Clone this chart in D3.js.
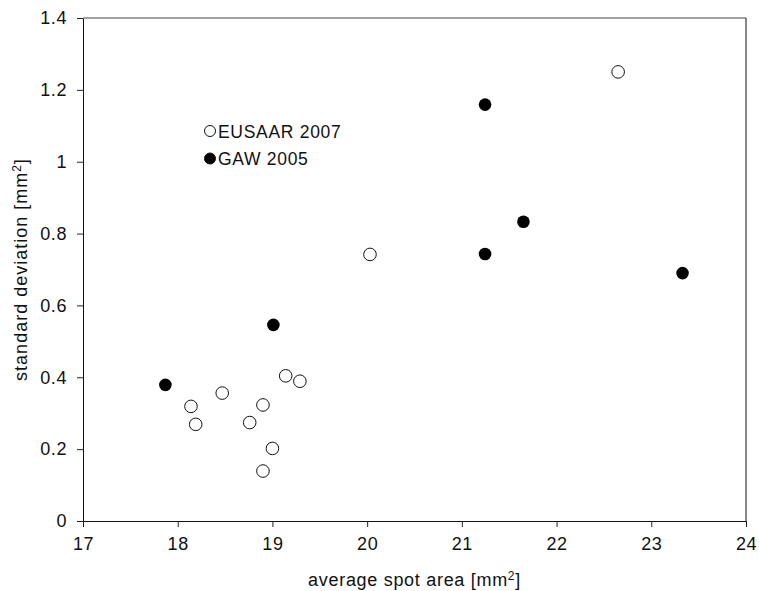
<!DOCTYPE html>
<html>
<head>
<meta charset="utf-8">
<script src="https://cdn.jsdelivr.net/npm/d3@7"></script>
<style>
  body { margin: 0; background: #fff; }
  svg { font-family: Arial, "Liberation Sans", sans-serif; }
</style>
</head>
<body>
<div id="chart"><svg width="759" height="591"></svg></div>
<script>
// EUSAAR 2007 (open circles)
const eusaarX = [18.14, 18.19, 18.47, 18.76, 18.90, 18.90, 19.00, 19.14, 19.29, 20.03, 22.65];
const eusaarY = [0.319, 0.269, 0.356, 0.274, 0.323, 0.139, 0.202, 0.404, 0.389, 0.742, 1.25];

// GAW 2005 (filled circles)
const gawX = [17.87, 19.01, 21.245, 21.245, 21.65, 23.33];
const gawY = [0.379, 0.546, 1.159, 0.743, 0.833, 0.69];

const xTicks = [17, 18, 19, 20, 21, 22, 23, 24];
const yTicks = [0, 0.2, 0.4, 0.6, 0.8, 1, 1.2, 1.4];

const seriesNames = ["EUSAAR 2007", "GAW 2005"];

/***** setup *****/
const svg = d3.select("#chart svg");
const margin = {top: 18, left: 83, right: 13, bottom: 70};
const width = 759, height = 591;

const xScale = d3.scaleLinear()
    .domain([17, 24])
    .range([margin.left, width - margin.right]);

const yScale = d3.scaleLinear()
    .domain([0, 1.4])
    .range([height - margin.bottom, margin.top]);

/***** axes *****/
const xAxis = d3.axisBottom(xScale)
    .tickValues(xTicks)
    .tickSize(6)
    .tickSizeOuter(0)
    .tickPadding(10)
    .tickFormat(d => d);

const yAxis = d3.axisLeft(yScale)
    .tickValues(yTicks)
    .tickSize(6)
    .tickSizeOuter(0)
    .tickPadding(10)
    .tickFormat(d => d);

const gx = svg.append("g")
    .attr("transform", "translate(0," + yScale(0) + ")")
    .call(xAxis);

const gy = svg.append("g")
    .attr("transform", "translate(" + xScale(17) + ",0)")
    .call(yAxis);

[gx, gy].forEach(g => {
    g.selectAll("text")
        .style("font-size", "18px")
        .style("letter-spacing", "0.6px")
        .style("font-family", "Arial, 'Liberation Sans', sans-serif")
        .attr("fill", "#111");
    g.selectAll("line").attr("stroke", "#222");
    g.select(".domain").attr("stroke", "#111");
});

// top and right frame lines
svg.append("line")
    .attr("x1", xScale(17)).attr("x2", xScale(24))
    .attr("y1", yScale(1.4)).attr("y2", yScale(1.4))
    .attr("stroke", "#444");
svg.append("line")
    .attr("x1", xScale(24)).attr("x2", xScale(24))
    .attr("y1", yScale(1.4)).attr("y2", yScale(0))
    .attr("stroke", "#111");

/***** axis titles *****/
const xTitle = svg.append("text")
    .attr("x", (xScale(17) + xScale(24)) / 2)
    .attr("y", 586)
    .attr("text-anchor", "middle")
    .style("font-size", "18px")
    .style("letter-spacing", "0.7px")
    .attr("fill", "#111");
xTitle.append("tspan").text("average spot area [mm");
xTitle.append("tspan").attr("dy", -6).style("font-size", "12px").text("2");
xTitle.append("tspan").attr("dy", 6).text("]");

const yTitle = svg.append("text")
    .attr("transform", "translate(27," + (yScale(0) + yScale(1.4)) / 2 + ") rotate(-90)")
    .attr("text-anchor", "middle")
    .style("font-size", "18px")
    .style("letter-spacing", "1px")
    .attr("fill", "#111");
yTitle.append("tspan").text("standard deviation [mm");
yTitle.append("tspan").attr("dy", -6).style("font-size", "12px").text("2");
yTitle.append("tspan").attr("dy", 6).text("]");

/***** points *****/
const eusaar = eusaarX.map((x, i) => ({x: x, y: eusaarY[i]}));
const gaw = gawX.map((x, i) => ({x: x, y: gawY[i]}));

svg.selectAll(".eusaarPt")
    .data(eusaar)
    .enter()
    .append("circle")
    .attr("class", "eusaarPt")
    .attr("cx", d => xScale(d.x))
    .attr("cy", d => yScale(d.y))
    .attr("r", 6.3)
    .style("fill", "#fff")
    .style("stroke", "#111")
    .style("stroke-width", 1);

svg.selectAll(".gawPt")
    .data(gaw)
    .enter()
    .append("circle")
    .attr("class", "gawPt")
    .attr("cx", d => xScale(d.x))
    .attr("cy", d => yScale(d.y))
    .attr("r", 6.3)
    .style("fill", "#000");

/***** legend *****/
const legend = svg.append("g").attr("transform", "translate(210,131)");
seriesNames.forEach((name, i) => {
    legend.append("circle")
        .attr("cx", 0)
        .attr("cy", i * 27.5)
        .attr("r", 5.5)
        .style("fill", i === 0 ? "#fff" : "#000")
        .style("stroke", "#111")
        .style("stroke-width", 1);
    legend.append("text")
        .attr("x", 8)
        .attr("y", i * 27.5 + 6.5)
        .style("font-size", "17.5px")
        .style("letter-spacing", "0.7px")
        .attr("fill", "#111")
        .text(name);
});
</script>
</body>
</html>
